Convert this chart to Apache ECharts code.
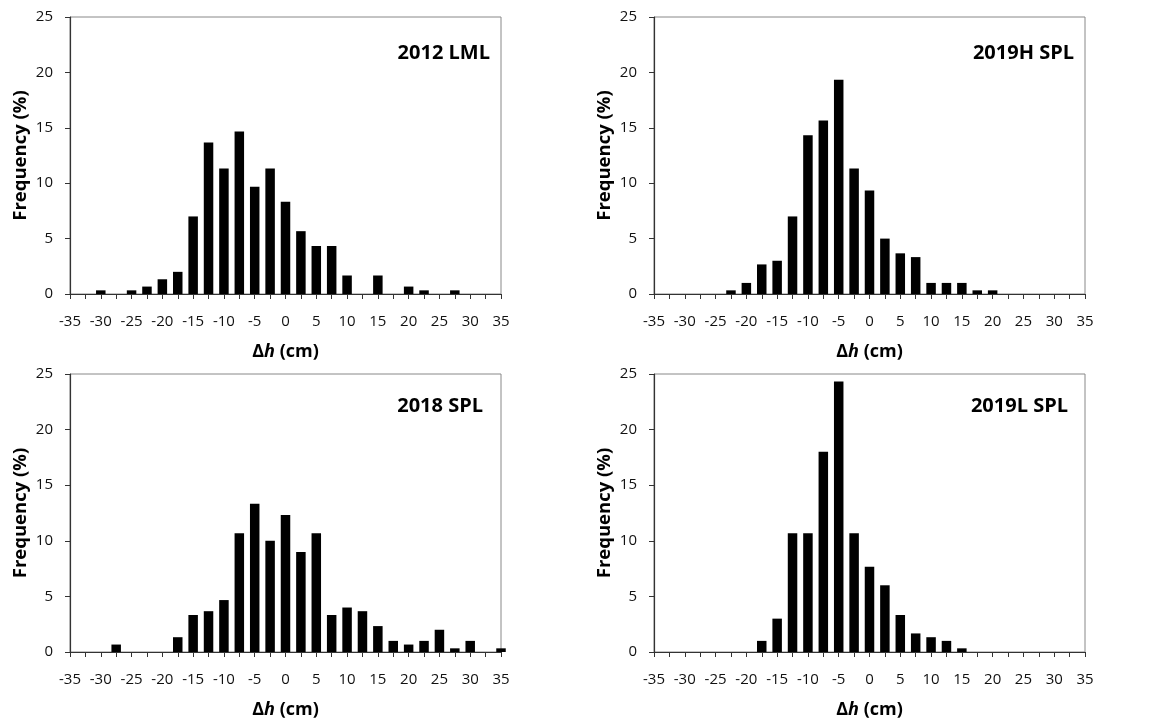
<!DOCTYPE html>
<html>
<head>
<meta charset="utf-8">
<script src="https://cdn.jsdelivr.net/npm/echarts@6/dist/echarts.min.js"></script>
<style>
html,body{margin:0;padding:0;background:#fff;}
#chart{width:1151px;height:723px;}
</style>
</head>
<body>
<div id="chart"></div>
<script>
// Panel titles
const panelTitles = ['2012 LML', '2019H SPL', '2018 SPL', '2019L SPL'];

// Bin centres (Δh, cm) and frequencies (%) per panel
const x2012LML = [-30, -25, -22.5, -20, -17.5, -15, -12.5, -10, -7.5, -5, -2.5, 0, 2.5, 5, 7.5, 10, 15, 20, 22.5, 27.5];
const y2012LML = [0.33, 0.33, 0.67, 1.33, 2.0, 7.0, 13.67, 11.33, 14.67, 9.67, 11.33, 8.33, 5.67, 4.33, 4.33, 1.67, 1.67, 0.67, 0.33, 0.33];

const x2019HSPL = [-22.5, -20, -17.5, -15, -12.5, -10, -7.5, -5, -2.5, 0, 2.5, 5, 7.5, 10, 12.5, 15, 17.5, 20];
const y2019HSPL = [0.33, 1.0, 2.67, 3.0, 7.0, 14.33, 15.67, 19.33, 11.33, 9.33, 5.0, 3.67, 3.33, 1.0, 1.0, 1.0, 0.33, 0.33];

const x2018SPL = [-27.5, -17.5, -15, -12.5, -10, -7.5, -5, -2.5, 0, 2.5, 5, 7.5, 10, 12.5, 15, 17.5, 20, 22.5, 25, 27.5, 30, 35];
const y2018SPL = [0.67, 1.33, 3.33, 3.67, 4.67, 10.67, 13.33, 10.0, 12.33, 9.0, 10.67, 3.33, 4.0, 3.67, 2.33, 1.0, 0.67, 1.0, 2.0, 0.33, 1.0, 0.33];

const x2019LSPL = [-17.5, -15, -12.5, -10, -7.5, -5, -2.5, 0, 2.5, 5, 7.5, 10, 12.5, 15];
const y2019LSPL = [1.0, 3.0, 10.67, 10.67, 18.0, 24.33, 10.67, 7.67, 6.0, 3.33, 1.67, 1.33, 1.0, 0.33];

// Axis settings
const xMin = -35, xMax = 35, xStep = 2.5, xLabelStep = 5;
const yMin = 0, yMax = 25, yStep = 5;

const panelsX = [x2012LML, x2019HSPL, x2018SPL, x2019LSPL];
const panelsY = [y2012LML, y2019HSPL, y2018SPL, y2019LSPL];

const font = '"Open Sans", "Liberation Sans", sans-serif';
const grids = [
  {left: 70, top: 17, width: 431, height: 277},
  {left: 654, top: 17, width: 431, height: 277},
  {left: 70, top: 374, width: 431, height: 278},
  {left: 654, top: 374, width: 431, height: 278}
];
const titlePos = [
  {right: 656, top: 38},
  {right: 72, top: 38},
  {right: 663, top: 391},
  {right: 78, top: 391}
];

const axisColor = '#333';
const option = {
  animation: false,
  backgroundColor: '#fff',
  title: panelTitles.map((t, i) => ({
    text: t,
    right: titlePos[i].right,
    top: titlePos[i].top,
    textStyle: {fontFamily: font, fontWeight: 'bold', fontSize: 20, color: '#000'}
  })),
  grid: grids.map(g => Object.assign({show: true, borderColor: '#888', borderWidth: 1, backgroundColor: 'transparent'}, g)),
  xAxis: grids.map((g, i) => ({
    type: 'value', gridIndex: i, min: xMin, max: xMax, interval: xStep,
    axisLine: {show: true, onZero: false, lineStyle: {color: axisColor, width: 1.2}},
    axisTick: {show: true, length: 5, inside: false, lineStyle: {color: axisColor}},
    splitLine: {show: false},
    axisLabel: {
      margin: 20, fontFamily: font, fontSize: 15, color: '#111',
      formatter: v => (Math.abs(v % xLabelStep) < 1e-9 ? String(v) : '')
    },
    name: '{b|Δ}{i|h}{b| (cm)}',
    nameLocation: 'middle', nameGap: 49,
    nameTextStyle: {
      rich: {
        b: {fontFamily: font, fontWeight: 'bold', fontSize: 18, color: '#000'},
        i: {fontFamily: font, fontWeight: 'bold', fontStyle: 'italic', fontSize: 18, color: '#000'}
      }
    }
  })),
  yAxis: grids.map((g, i) => ({
    type: 'value', gridIndex: i, min: yMin, max: yMax, interval: yStep,
    axisLine: {show: true, onZero: false, lineStyle: {color: axisColor, width: 1.2}},
    axisTick: {show: true, length: 5, inside: false, lineStyle: {color: axisColor}},
    splitLine: {show: false},
    axisLabel: {margin: 17, fontFamily: font, fontSize: 15, color: '#111'},
    name: 'Frequency (%)',
    nameLocation: 'middle', nameGap: 40, nameRotate: 90,
    nameTextStyle: {fontFamily: font, fontWeight: 'bold', fontSize: 18.5, color: '#000'}
  })),
  series: panelsX.map((xs, i) => ({
    type: 'bar', xAxisIndex: i, yAxisIndex: i,
    barWidth: 9.5, clip: true,
    itemStyle: {color: '#000'},
    data: xs.map((x, k) => [x, panelsY[i][k]])
  }))
};

const chart = echarts.init(document.getElementById('chart'), null, {renderer: 'canvas'});
chart.setOption(option);
</script>
</body>
</html>
